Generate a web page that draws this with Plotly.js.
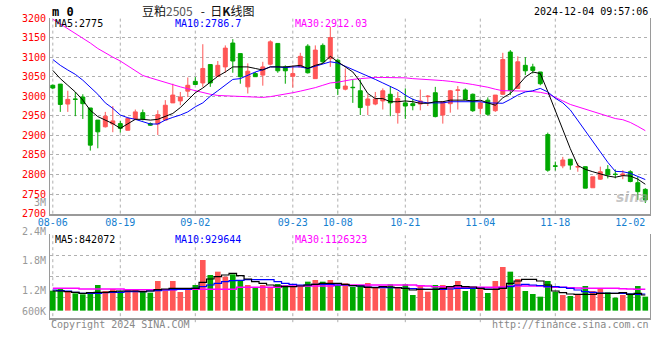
<!DOCTYPE html>
<html>
<head>
<meta charset="utf-8">
<script src="https://cdn.plot.ly/plotly-3.0.1.min.js"></script>
<style>html,body{margin:0;padding:0;background:#fff}#chart{width:660px;height:360px}</style>
</head>
<body>
<div id="chart"></div>
<script>
// ---- data ----
const dates = [
 "2024-08-06","2024-08-07","2024-08-08","2024-08-09","2024-08-12","2024-08-13","2024-08-14","2024-08-15","2024-08-16",
 "2024-08-19","2024-08-20","2024-08-21","2024-08-22","2024-08-23","2024-08-26","2024-08-27","2024-08-28","2024-08-29","2024-08-30",
 "2024-09-02","2024-09-03","2024-09-04","2024-09-05","2024-09-06","2024-09-09","2024-09-10","2024-09-11","2024-09-12","2024-09-13",
 "2024-09-18","2024-09-19","2024-09-20","2024-09-23","2024-09-24","2024-09-25","2024-09-26","2024-09-27","2024-09-30",
 "2024-10-08","2024-10-09","2024-10-10","2024-10-11","2024-10-14","2024-10-15","2024-10-16","2024-10-17","2024-10-18",
 "2024-10-21","2024-10-22","2024-10-23","2024-10-24","2024-10-25","2024-10-28","2024-10-29","2024-10-30","2024-10-31",
 "2024-11-01","2024-11-04","2024-11-05","2024-11-06","2024-11-07","2024-11-08","2024-11-11","2024-11-12","2024-11-13","2024-11-14","2024-11-15",
 "2024-11-18","2024-11-19","2024-11-20","2024-11-21","2024-11-22","2024-11-25","2024-11-26","2024-11-27","2024-11-28","2024-11-29",
 "2024-12-02","2024-12-03","2024-12-04"];

const openP = [3028,3031,2980,2993,2998,2970,2939,2922,2929,2930, 2913,2942,2958,2930,2929,2939,2983,2988,3013,3038,
 3034,3081,3051,3075,3136,3109,3024,3058,3054,3082, 3135,3075,3051,3075,3128,3045,3130,3096,3092,3018,
 3023,3014,2977,2980,2988,3005,2958,2983,2981,2980, 2999,3009,2952,2981,3015,3016,3005,2969,2990,2963,
 3005,3113,3020,3079,3075,3062,2902,2822,2822,2839, 2819,2820,2766,2788,2813,2801,2798,2807,2779,2762];
const highP = [3030,3031,3014,3011,3005,2970,2939,2960,2975,2937, 2947,2966,2966,2933,2964,2990,3032,3011,3048,3049,
 3133,3081,3090,3130,3146,3109,3084,3062,3088,3143, 3135,3079,3079,3111,3133,3130,3135,3177,3096,3071,
 3043,3043,3005,3011,3020,3024,3011,3020,2994,3017, 3003,3024,2986,3016,3026,3020,3007,2990,2997,3003,
 3111,3118,3102,3100,3083,3062,2907,2833,2845,2839, 2830,2820,2794,2820,2824,2813,2811,2811,2794,2765];
const lowP = [3018,2960,2960,2949,2942,2861,2867,2920,2908,2907, 2913,2939,2938,2924,2901,2939,2983,2977,2998,3030,
 3024,3024,3050,3060,3060,3032,3007,3050,3027,3079, 3060,3032,3022,3075,3058,3045,3085,3075,3003,3015,
 2983,2952,2952,2977,2966,2949,2930,2942,2964,2964, 2975,2946,2930,2958,2966,2990,2960,2954,2950,2960,
 3003,3003,3020,3054,3058,3028,2807,2810,2816,2812, 2807,2765,2766,2786,2790,2790,2788,2780,2735,2727];
const closeP = [3021,2979,2992,2992,2981,2875,2909,2949,2937,2918, 2943,2960,2942,2926,2953,2977,3003,2998,3028,3030,
 3071,3034,3079,3123,3090,3050,3064,3050,3075,3139, 3065,3065,3058,3102,3060,3118,3088,3150,3020,3026,
 3022,2971,2993,2993,3014,2983,2994,2975,2976,2988, 3000,2948,2986,3014,3016,2992,2963,2983,2954,3003,
 3094,3015,3088,3065,3066,3032,2811,2821,2837,2824, 2820,2765,2794,2807,2799,2800,2801,2782,2756,2735];

const ma5 = [3066,3045,3028,3011,2990,2964,2948,2939,2930,2918, 2930,2941,2941,2939,2941,2948,2956,2971,2990,3009,
 3021,3037,3051,3062,3075,3075,3075,3071,3067,3075, 3075,3075,3077,3079,3071,3079,3084,3102,3088,3075,
 3062,3037,3007,2994,2994,2986,2986,2988,2986,2982, 2982,2986,2986,2990,2990,2990,2988,2990,2983,2977,
 2996,3007,3027,3049,3062,3058,3012,2962,2913,2866, 2823,2813,2807,2801,2796,2793,2797,2796,2788,2775];
const ma10 = [3094,3079,3067,3056,3041,3024,3005,2983,2969,2952, 2945,2941,2935,2929,2929,2939,2946,2952,2960,2973,
 2983,3000,3014,3028,3043,3045,3054,3062,3068,3075, 3075,3073,3075,3075,3071,3077,3082,3088,3085,3077,
 3068,3060,3051,3043,3034,3026,3016,3003,2992,2986, 2983,2983,2983,2986,2986,2986,2986,2986,2983,2982,
 2982,2992,3003,3011,3014,3020,3011,2995,2983,2965, 2938,2913,2884,2858,2831,2808,2807,2803,2795,2787];
const ma30 = [3197,3185,3172,3160,3149,3136,3122,3110,3100,3090, 3078,3064,3053,3047,3041,3035,3030,3024,3019,3014,
 3010,3005,3002,3001,3000,2999,2999,2998,2997,2999, 3002,3006,3009,3013,3017,3022,3028,3034,3036,3040,
 3043,3045,3047,3048,3048,3048,3048,3047,3045,3044, 3043,3041,3040,3038,3036,3033,3030,3027,3023,3018,
 3014,3014,3014,3013,3012,3010,3006,2998,2988,2979, 2973,2967,2961,2954,2948,2943,2940,2933,2923,2912];

const volume = [781000,848000,752000,705000,676000,705000,943000,771000,829000,771000,
 800000,800000,781000,724000,1057000,781000,1057000,743000,848000,943000,
 1657000,1229000,1324000,1181000,1248000,1057000,943000,876000,943000,876000,
 971000,943000,914000,895000,1038000,1086000,1038000,1086000,924000,990000,
 886000,943000,1000000,867000,848000,962000,867000,962000,657000,914000,
 752000,943000,943000,895000,1057000,771000,848000,848000,714000,1057000,
 1457000,1324000,1114000,771000,686000,610000,1057000,752000,657000,629000,
 657000,914000,771000,848000,733000,581000,657000,705000,914000,610000];
const volMa5 = [771000,771000,752000,733000,705000,724000,733000,733000,752000,771000,
 771000,771000,752000,771000,810000,829000,848000,848000,848000,848000,
 1019000,1114000,1181000,1229000,1276000,1210000,1114000,1038000,990000,943000,
 914000,895000,895000,914000,943000,962000,990000,990000,990000,962000,
 924000,914000,876000,867000,895000,886000,867000,848000,800000,819000,
 819000,819000,848000,895000,924000,895000,886000,848000,819000,819000,
 848000,990000,1057000,1105000,1105000,1057000,943000,771000,724000,686000,
 676000,676000,676000,705000,705000,705000,724000,676000,705000,657000];
const volMa10 = [800000,781000,771000,733000,705000,705000,705000,724000,733000,733000,
 752000,752000,752000,771000,781000,800000,810000,819000,819000,848000,
 895000,943000,990000,1038000,1067000,1076000,1095000,1095000,1095000,1095000,
 1038000,990000,962000,943000,943000,962000,962000,962000,943000,943000,
 924000,914000,886000,876000,867000,867000,867000,848000,838000,829000,
 819000,819000,819000,829000,848000,848000,848000,848000,829000,819000,
 848000,895000,943000,962000,943000,924000,895000,895000,876000,848000,
 800000,752000,733000,714000,705000,705000,705000,686000,676000,686000];
const volMa30 = [848000,848000,848000,848000,829000,829000,829000,829000,829000,829000,
 810000,810000,810000,810000,810000,810000,810000,819000,819000,819000,
 819000,819000,819000,819000,819000,876000,876000,876000,876000,876000,
 876000,914000,914000,914000,914000,914000,914000,914000,943000,943000,
 943000,943000,943000,943000,943000,943000,943000,943000,943000,924000,
 914000,895000,895000,886000,876000,876000,876000,876000,876000,876000,
 886000,914000,914000,914000,914000,914000,895000,876000,876000,867000,
 857000,848000,848000,848000,848000,848000,838000,829000,819000,819000];

const tickDates = ["2024-08-06","2024-08-19","2024-09-02","2024-09-23","2024-10-08","2024-10-21","2024-11-04","2024-11-18","2024-12-02"];
const tickLabels = ["08-06","08-19","09-02","09-23","10-08","10-21","11-04","11-18","12-02"];
const gridDates = ["2024-08-06","2024-08-19","2024-09-02","2024-09-23","2024-10-08","2024-10-21","2024-11-04","2024-11-18"];
const priceTicks = [2700,2750,2800,2850,2900,2950,3000,3050,3100,3150,3200];
const volGrid = [600000,1200000,1800000,2400000];
const volLabels = [["2.4M",231],["1.8M",260],["1.2M",290],["600K",311],["3M",202]];

// ---- styling ----
const RED = '#ff5656', GREEN = '#00a800', GRID = '#b0b0b0', FRAME = '#9a9a9a';
const MONO = 'DejaVu Sans Mono, Liberation Mono, monospace';
const VOL_BASE = 210000;
const W = 600, L = 50, TOP = 18, H = 300;
const px = x => (x - L) / W, py = y => (TOP + H - y) / H;

const volColors = closeP.map((c, i) => c >= openP[i] ? RED : GREEN);

const traces = [
  {type:'candlestick', x:dates, open:openP, high:highP, low:lowP, close:closeP,
   increasing:{line:{color:RED,width:1}, fillcolor:RED},
   decreasing:{line:{color:GREEN,width:1}, fillcolor:GREEN},
   whiskerwidth:0, xaxis:'x', yaxis:'y', hoverinfo:'skip'},
  {type:'scatter', mode:'lines', x:dates, y:ma30, line:{color:'#ff00ff', width:1}, xaxis:'x', yaxis:'y'},
  {type:'scatter', mode:'lines', x:dates, y:ma10, line:{color:'#0000ff', width:1}, xaxis:'x', yaxis:'y'},
  {type:'scatter', mode:'lines', x:dates, y:ma5, line:{color:'#000000', width:1}, xaxis:'x', yaxis:'y'},
  {type:'bar', x:dates, y:volume.map(v => v - VOL_BASE), base:VOL_BASE, marker:{color:volColors, line:{width:0}},
   xaxis:'x2', yaxis:'y2'},
  {type:'scatter', mode:'lines', x:dates, y:volMa30, line:{color:'#ff00ff', width:1.5, shape:'hvh'}, xaxis:'x2', yaxis:'y2'},
  {type:'scatter', mode:'lines', x:dates, y:volMa10, line:{color:'#0000ff', width:1.2, shape:'hvh'}, xaxis:'x2', yaxis:'y2'},
  {type:'scatter', mode:'lines', x:dates, y:volMa5, line:{color:'#000000', width:1.2, shape:'hvh'}, xaxis:'x2', yaxis:'y2'}
];

const shapes = [];
gridDates.forEach(d => {
  const i = dates.indexOf(d);
  shapes.push({type:'line', xref:'x', yref:'y domain', x0:i, x1:i, y0:0, y1:1, layer:'below',
               line:{color:GRID, width:1, dash:'dot'}});
  shapes.push({type:'line', xref:'x2', yref:'y2 domain', x0:i, x1:i, y0:-0.05, y1:1, layer:'below',
               line:{color:GRID, width:1, dash:'dot'}});
});

const ann = (text, x, y, color, anchor, size, extra) => Object.assign({
  text, x:px(x), y:py(y), xref:'paper', yref:'paper', showarrow:false,
  xanchor:anchor, yanchor:'middle', font:{family:MONO, size:size || 10, color}}, extra || {});

const annotations = [
  ann('<b>m 0</b>', 50, 12, '#000', 'left', 12),
  ann('豆粕<span style="color:#555">2505</span>&nbsp;&nbsp;&nbsp;-&nbsp;&nbsp;日<b>K</b>线图', 140, 11, '#111', 'left', 12,
      {font:{family:'Noto Sans CJK SC, sans-serif', size:12, color:'#111'}}),
  ann('2024-12-04 09:57:06', 650, 12, '#000', 'right', 10),
  ann('MA5:2775', 53, 23, '#000', 'left', 10),
  ann('MA10:2786.7', 173, 23, '#0000ff', 'left', 10),
  ann('MA30:2912.03', 293, 23, '#ff00ff', 'left', 10),
  ann('MA5:842072', 53, 239, '#000', 'left', 10),
  ann('MA10:929644', 173, 239, '#0000ff', 'left', 10),
  ann('MA30:1126323', 293, 239, '#ff00ff', 'left', 10),
  ann('Copyright 2024 SINA.COM', 49, 324, '#888', 'left', 10),
  ann('http://finance.sina.com.cn', 651, 324, '#888', 'right', 10),
  ann('<i><b>sina</b></i>', 632, 197, 'rgba(160,160,160,0.6)', 'center', 14,
      {font:{family:'DejaVu Sans, sans-serif', size:14, color:'rgba(160,160,160,0.6)'}})
];
volLabels.forEach(([t, y]) => annotations.push(ann(t, 48, y, '#999', 'right', 10)));

const layout = {
  width:660, height:360,
  margin:{l:L, r:660 - L - W, t:TOP, b:360 - TOP - H, pad:0},
  paper_bgcolor:'#fff', plot_bgcolor:'#fff',
  showlegend:false, hovermode:false, dragmode:false,
  boxgap:0.25, bargap:0.25,
  xaxis:{type:'category', anchor:'y', range:[-0.373, 79.627], tickvals:tickDates, ticktext:tickLabels,
         showgrid:false, showline:true, linecolor:FRAME, linewidth:2, ticks:'', zeroline:false,
         ticklabelstandoff:-2,
         tickfont:{family:MONO, size:10, color:'#1580d0'}, rangeslider:{visible:false}},
  yaxis:{domain:[0.348, 1], range:[2700, 3200], tickvals:priceTicks, ticktext:priceTicks.map(String),
         showgrid:true, gridcolor:GRID, griddash:'dot', gridwidth:1, zeroline:false,
         showline:true, mirror:true, linecolor:FRAME, linewidth:1, ticks:'', ticklabelstandoff:1,
         tickfont:{family:MONO, size:10, color:'#ff0000'}},
  xaxis2:{type:'category', anchor:'y2', matches:'x', range:[-0.373, 79.627], showticklabels:false,
          showgrid:false, showline:true, linecolor:FRAME, linewidth:2, ticks:'', zeroline:false},
  yaxis2:{domain:[0, 0.28], range:[0, 2400000], tickvals:volGrid, showticklabels:false,
          showgrid:true, gridcolor:GRID, griddash:'dot', zeroline:false,
          showline:true, mirror:true, linecolor:FRAME, linewidth:1, ticks:''},
  shapes, annotations
};

Plotly.newPlot('chart', traces, layout, {staticPlot:true, displayModeBar:false});
</script>
</body>
</html>
